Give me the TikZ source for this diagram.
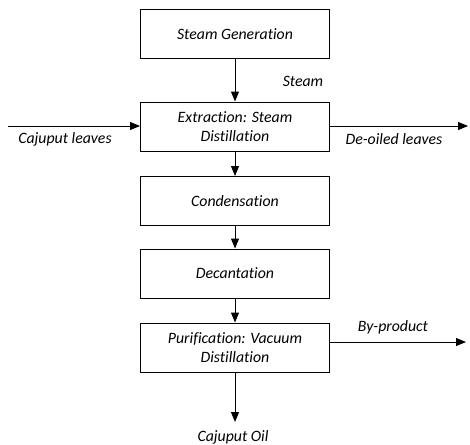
\documentclass[tikz,border=0pt]{standalone}
\usepackage{fontspec}
\setmainfont{Carlito}[RawFeature={-liga;-clig;-dlig}]
\usetikzlibrary{arrows.meta}
\begin{document}
\begin{tikzpicture}[x=1pt,y=-1pt,
  every node/.style={font=\fontsize{15.8}{19.5}\selectfont\itshape},
  procbox/.style={draw, line width=1pt, minimum width=189pt, minimum height=49pt, align=center, inner sep=2pt},
  flow/.style={-{Triangle[length=10pt,width=8pt]}, line width=1pt},
  lbl/.style={inner sep=0pt}]
\useasboundingbox (0,0) rectangle (470,444);
\node[procbox] (gen) at (235,34) {Steam Generation};
\node[procbox] (ext) at (235,126.5) {Extraction: Steam\\Distillation};
\node[procbox] (con) at (235,201) {Condensation};
\node[procbox] (dec) at (235,273.5) {Decantation};
\node[procbox] (pur) at (235,347.5) {Purification: Vacuum\\Distillation};
\coordinate (inL) at (8,126);
\coordinate (outR) at (468,126);
\coordinate (bpR) at (466,342);
\coordinate (oilB) at (235,422);
\draw[flow] (gen) -- (ext);
\draw[flow] (ext) -- (con);
\draw[flow] (con) -- (dec);
\draw[flow] (dec) -- (pur);
\draw[flow] (inL) -- (inL -| ext.west);
\draw[flow] (outR -| ext.east) -- (outR);
\draw[flow] (bpR -| pur.east) -- (bpR);
\draw[flow] (pur) -- (oilB);
\node[lbl] (steam) at (303,81) {Steam};
\node[lbl] (caj) at (65,139) {Cajuput leaves};
\node[lbl] (deo) at (394,139) {De-oiled leaves};
\node[lbl] (byp) at (393,327) {By-product};
\node[lbl] (oil) at (233,437) {Cajuput Oil};
\end{tikzpicture}
\end{document}
